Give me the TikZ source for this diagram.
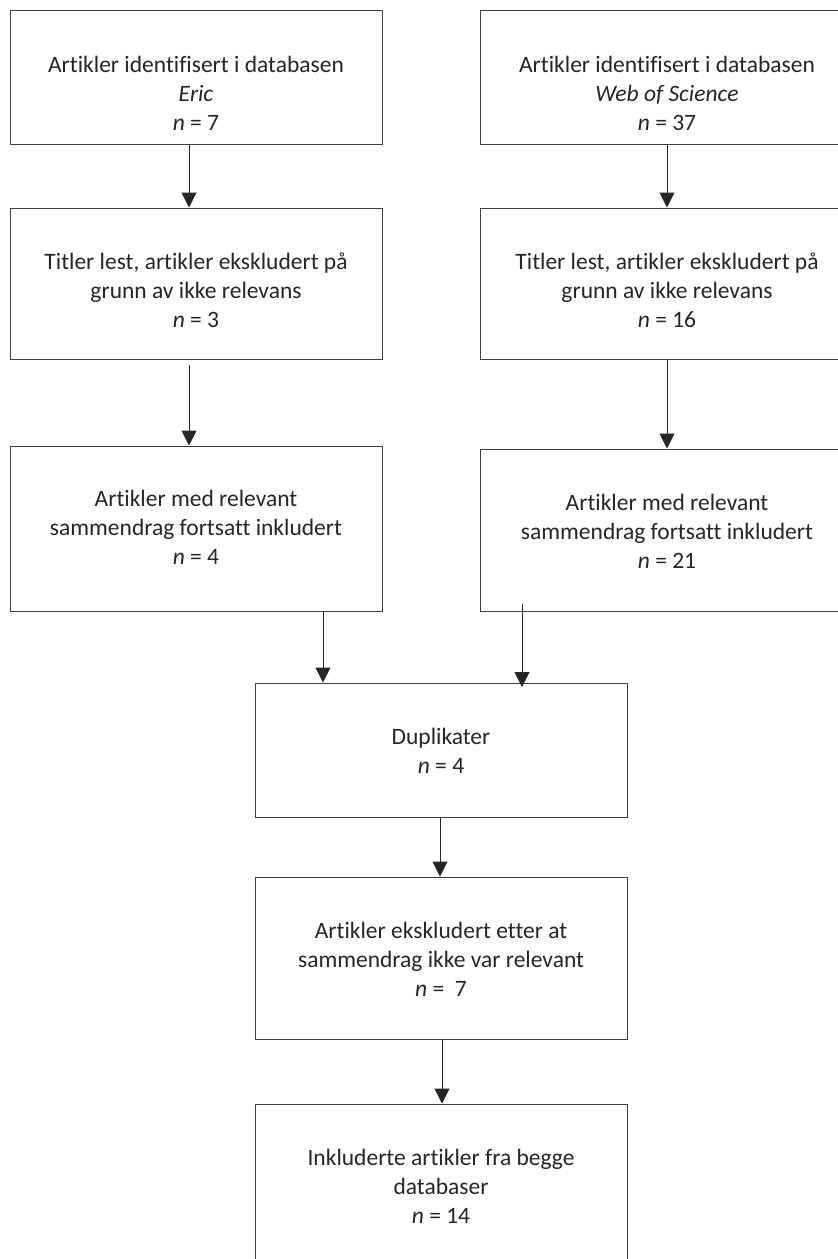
\documentclass[tikz,border=0pt]{standalone}
\usepackage{fontspec}
\setmainfont{Carlito}[Ligatures=NoCommon]
\usetikzlibrary{arrows.meta,calc}
\begin{document}
\begin{tikzpicture}[x=1pt,y=-1pt,
  box/.style={draw=black!75,line width=1pt,minimum width=372pt,inner sep=0pt,fill=white},
  txt/.style={align=center,inner sep=0pt,anchor=north,font=\fontsize{23.5}{29}\selectfont,text=black!85},
  arr/.style={draw=black!85,line width=1pt,-{Triangle[width=15pt,length=15pt]}}]
\useasboundingbox (0,0) rectangle (838,1259);
\clip (0,0) rectangle (838,1259);
% boxes
\node[box,minimum height=134pt] (L1) at (196,77) {};
\node[box,minimum height=134pt,minimum width=374pt] (R1) at (667,77) {};
\node[box,minimum height=151pt] (L2) at (196,283.5) {};
\node[box,minimum height=151pt,minimum width=374pt] (R2) at (667,283.5) {};
\node[box,minimum height=165pt] (L3) at (196,528.5) {};
\node[box,minimum height=162pt,minimum width=374pt] (R3) at (667,530) {};
\node[box,minimum height=134pt] (D) at (441,750) {};
\node[box,minimum height=162pt] (E) at (441,958) {};
\node[box,minimum height=200pt] (F) at (441,1204) {};
% texts
\node[txt] (L1t) at (196,52) {\strut Artikler identifisert i databasen\\\textit{Eric}\\\textit{n} = 7};
\node[txt] (R1t) at (667,52) {\strut Artikler identifisert i databasen\\\textit{Web of Science}\\\textit{n} = 37};
\node[txt] (L2t) at (196,249) {\strut Titler lest, artikler ekskludert på\\grunn av ikke relevans\\\textit{n} = 3};
\node[txt] (R2t) at (667,249) {\strut Titler lest, artikler ekskludert på\\grunn av ikke relevans\\\textit{n} = 16};
\node[txt] (L3t) at (196,486) {\strut Artikler med relevant\\sammendrag fortsatt inkludert\\\textit{n} = 4};
\node[txt] (R3t) at (667,490) {\strut Artikler med relevant\\sammendrag fortsatt inkludert\\\textit{n} = 21};
\node[txt] (Dt) at (441,724) {\strut Duplikater\\\textit{n} = 4};
\node[txt] (Et) at (441,918) {\strut Artikler ekskludert etter at\\sammendrag ikke var relevant\\\textit{n} = \ 7};
\node[txt] (Ft) at (441,1145) {\strut Inkluderte artikler fra begge\\databaser\\\textit{n} = 14};
% connectors
\coordinate (l2s) at (189,365);
\coordinate (r3s) at (522,604);
\coordinate (dn) at (522,687);
\draw[arr] (L1.south -| 189,0) -- (L2.north -| 189,0);
\draw[arr] (R1.south) -- (R2.north);
\draw[arr] (l2s) -- (L3.north -| l2s);
\draw[arr] (R2.south) -- (R3.north);
\draw[arr] (L3.south -| 323,0) -- (D.north -| 323,0);
\draw[arr] (r3s) -- (dn);
\draw[arr] (D.south -| 440,0) -- (E.north -| 440,0);
\draw[arr] (E.south -| 442,0) -- (F.north -| 442,0);
\end{tikzpicture}
\end{document}
